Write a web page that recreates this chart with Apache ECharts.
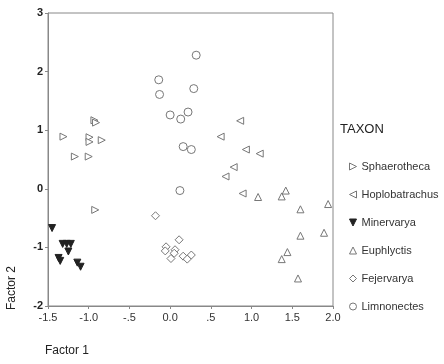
<!DOCTYPE html>
<html>
<head>
<meta charset="utf-8">
<script src="https://cdn.jsdelivr.net/npm/echarts@6/dist/echarts.min.js"></script>
<style>
  html, body { margin: 0; padding: 0; background: #fff; }
  #chart { width: 444px; height: 364px; }
</style>
</head>
<body>
<div id="chart"></div>
<script>
// factor scores, [Factor 1, Factor 2]
var sphaerotheca = [[-0.93, 1.17], [-0.91, 1.13], [-1.31, 0.89], [-0.99, 0.88], [-0.99, 0.80],
    [-0.84, 0.83], [-1.17, 0.55], [-1.00, 0.55], [-0.92, -0.36]];
var hoplobatrachus = [[0.86, 1.16], [0.62, 0.89], [0.93, 0.67], [1.10, 0.60], [0.78, 0.37],
    [0.68, 0.21], [0.89, -0.08]];
var minervarya = [[-1.45, -0.67], [-1.32, -0.94], [-1.27, -0.94], [-1.22, -0.94], [-1.25, -1.07],
    [-1.37, -1.18], [-1.35, -1.23], [-1.14, -1.26], [-1.10, -1.33]];
var euphlyctis = [[1.08, -0.14], [1.42, -0.03], [1.37, -0.13], [1.60, -0.35], [1.94, -0.26],
    [1.60, -0.80], [1.89, -0.75], [1.44, -1.08], [1.37, -1.20], [1.57, -1.53]];
var fejervarya = [[-0.18, -0.46], [0.11, -0.87], [-0.05, -0.99], [-0.06, -1.06], [0.06, -1.04],
    [0.05, -1.10], [0.01, -1.19], [0.16, -1.15], [0.21, -1.20], [0.26, -1.13]];
var limnonectes = [[0.32, 2.28], [-0.14, 1.86], [0.29, 1.71], [-0.13, 1.61], [0.00, 1.26],
    [0.13, 1.19], [0.22, 1.31], [0.16, 0.72], [0.26, 0.67], [0.12, -0.03]];

var taxa = ['Sphaerotheca', 'Hoplobatrachus', 'Minervarya', 'Euphlyctis', 'Fejervarya', 'Limnonectes'];
var taxonData = [sphaerotheca, hoplobatrachus, minervarya, euphlyctis, fejervarya, limnonectes];

// symbol look per taxon (triangles pointing right, left, down, up)
var symbols = [
    'path://M0,0L10,5L0,10Z',
    'path://M10,0L0,5L10,10Z',
    'path://M0,0L10,0L5,10Z',
    'path://M5,0L10,10L0,10Z',
    'diamond',
    'circle'
];
var sizes = [7, 7, 7, 7, 8, 8];

function tickFmt(v) {
    var s = v.toFixed(1);
    if (v !== 0 && Math.abs(v) < 1) s = s.replace('0.', '.');
    return s;
}

var series = [];
for (var i = 0; i < taxa.length; i++) {
    var filled = taxa[i] === 'Minervarya';
    series.push({
        name: taxa[i],
        type: 'scatter',
        data: taxonData[i],
        symbol: symbols[i],
        symbolSize: sizes[i],
        itemStyle: {
            color: filled ? '#222' : '#fff',
            borderColor: filled ? '#222' : '#777',
            borderWidth: 1,
            opacity: 1
        },
        emphasis: {disabled: true}
    });
}

var option = {
    animation: false,
    backgroundColor: '#fff',
    textStyle: {fontFamily: 'Liberation Sans, Arial, sans-serif'},
    grid: {
        left: 48, right: 111, top: 13, bottom: 58,
        show: true, borderColor: '#888', borderWidth: 1
    },
    legend: {
        orient: 'vertical',
        left: 344,
        top: 156,
        itemGap: 17,
        itemWidth: 7,
        itemHeight: 7,
        itemStyle: {borderWidth: 1},
        textStyle: {fontSize: 11, color: '#333', fontFamily: 'Liberation Sans, Arial, sans-serif'},
        data: taxa
    },
    xAxis: {
        type: 'value',
        min: -1.5, max: 2.0, interval: 0.5,
        splitLine: {show: false},
        axisLine: {onZero: false, lineStyle: {color: '#888'}},
        axisTick: {show: true, length: 3, lineStyle: {color: '#888'}},
        axisLabel: {color: '#333', fontSize: 11, margin: 6, formatter: tickFmt}
    },
    yAxis: {
        type: 'value',
        min: -2, max: 3, interval: 1,
        splitLine: {show: false},
        axisLine: {onZero: false, lineStyle: {color: '#888'}},
        axisTick: {show: true, length: 3, lineStyle: {color: '#888'}},
        axisLabel: {color: '#222', fontSize: 11, fontWeight: 'bold', margin: 5}
    },
    graphic: [
        {type: 'text', left: 340, top: 123, style: {text: 'TAXON', fontSize: 13, fill: '#222', fontFamily: 'Liberation Sans, Arial, sans-serif'}},
        {type: 'text', left: 45, top: 345, style: {text: 'Factor 1', fontSize: 12, fill: '#222', fontFamily: 'Liberation Sans, Arial, sans-serif'}},
        {type: 'text', x: 6, y: 310, rotation: Math.PI / 2, style: {text: 'Factor 2', fontSize: 12, fill: '#222', fontFamily: 'Liberation Sans, Arial, sans-serif'}}
    ],
    series: series
};

var chart = echarts.init(document.getElementById('chart'));
chart.setOption(option);
</script>
</body>
</html>
